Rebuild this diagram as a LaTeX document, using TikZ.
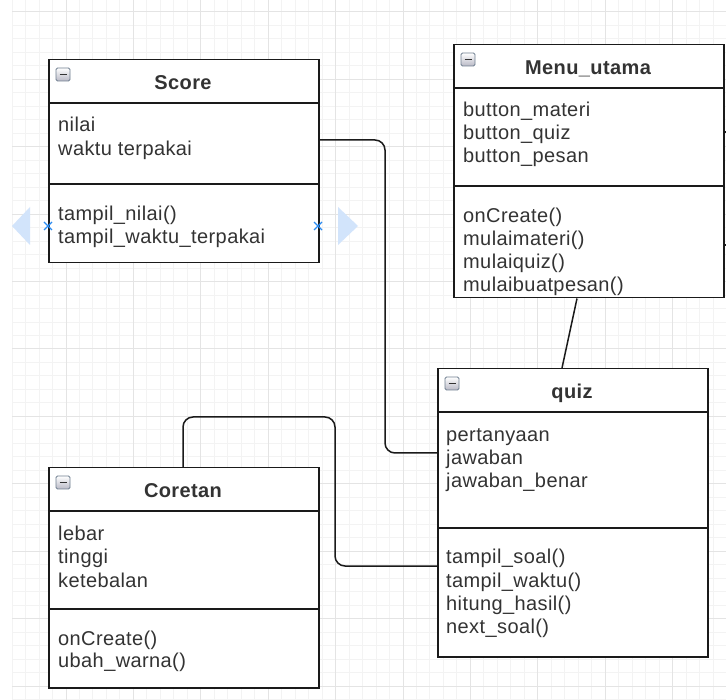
\documentclass[tikz,border=0pt]{standalone}
\usepackage{fontspec}
\setmainfont{Liberation Sans}[LetterSpace=2]
\definecolor{gridminor}{HTML}{F3F3F3}
\definecolor{gridmajor}{HTML}{E4E4E4}
\definecolor{txtgrey}{HTML}{333333}
\definecolor{linecol}{HTML}{1A1A1A}
\definecolor{arrowblue}{HTML}{D2E4FB}
\definecolor{xblue}{HTML}{2A8BF2}
\definecolor{iconedge}{HTML}{6F7F90}
\begin{document}
\begin{tikzpicture}[x=1pt,y=-1pt,
  cls/.style={draw=linecol, line width=1.5pt, fill=white, rectangle, anchor=north west, inner sep=0pt},
  sepline/.style={draw=linecol, line width=1.5pt},
  txt/.style={anchor=base west, inner sep=0pt, text=txtgrey, font=\fontsize{20pt}{24pt}\selectfont},
  hdr/.style={anchor=base, inner sep=0pt, text=txtgrey, font=\fontsize{20pt}{24pt}\selectfont\bfseries},
  conn/.style={draw=linecol, line width=1.5pt, rounded corners=10pt},
  iconbox/.style={draw=iconedge, line width=0.8pt, top color=white, bottom color=blue!10!gray!50, rounded corners=1.5pt},
  iconbar/.style={draw=black!80, line width=1.4pt},
  xmark/.style={draw=xblue, line width=1.4pt}
]
\useasboundingbox (0,0) rectangle (726,700);
\fill[white] (0,0) rectangle (726,700);
% grid
\foreach \i in {0,...,53} {
  \pgfmathsetmacro\xx{12.08+13.48*\i}
  \draw[gridminor, line width=1pt] (\xx,0) -- (\xx,700);
}
\foreach \i in {0,...,52} {
  \pgfmathsetmacro\yy{-1.48+13.48*\i}
  \draw[gridminor, line width=1pt] (12,\yy) -- (726,\yy);
}
\foreach \i in {0,...,9} {
  \pgfmathsetmacro\xx{66+67.4*\i}
  \draw[gridmajor, line width=1pt] (\xx,0) -- (\xx,700);
}
\foreach \i in {0,...,10} {
  \pgfmathsetmacro\yy{12+67.4*\i}
  \draw[gridmajor, line width=1pt] (12,\yy) -- (726,\yy);
}
% selection arrows around Score
\fill[arrowblue] (12,226) -- (30,207) -- (30,245) -- cycle;
\fill[arrowblue] (358,226) -- (338,207) -- (338,245) -- cycle;

% ---------- class boxes ----------
\node[cls, minimum width=270pt, minimum height=203pt] (score) at (48,59) {};
\node[cls, minimum width=270pt, minimum height=253pt] (menu) at (453,44) {};
\node[cls, minimum width=270pt, minimum height=288pt] (quiz) at (437,368) {};
\node[cls, minimum width=270pt, minimum height=220pt] (coretan) at (48,467) {};

% separators
\draw[sepline] (score.west |- 0,103) -- (score.east |- 0,103);
\draw[sepline] (score.west |- 0,184) -- (score.east |- 0,184);
\draw[sepline] (menu.west |- 0,88) -- (menu.east |- 0,88);
\draw[sepline] (menu.west |- 0,186) -- (menu.east |- 0,186);
\draw[sepline] (quiz.west |- 0,412) -- (quiz.east |- 0,412);
\draw[sepline] (quiz.west |- 0,528) -- (quiz.east |- 0,528);
\draw[sepline] (coretan.west |- 0,511) -- (coretan.east |- 0,511);
\draw[sepline] (coretan.west |- 0,609) -- (coretan.east |- 0,609);

% collapse icons
\foreach \ix/\iy in {56/68, 461/53, 445/377, 56/476} {
  \path[iconbox] (\ix,\iy) rectangle ++(14,13);
  \draw[iconbar] (\ix+3.5,\iy+6.5) -- ++(7,0);
}

% ---------- texts ----------
\node[hdr] (score-h) at (183,90) {Score};
\node[txt] (score-a1) at (58,132) {nilai};
\node[txt] (score-a2) at (58,156) {waktu terpakai};
\node[txt] (score-m1) at (58,221) {tampil\_nilai()};
\node[txt] (score-m2) at (58,244) {tampil\_waktu\_terpakai};

\node[hdr] (menu-h) at (588,75) {Menu\_utama};
\node[txt] (menu-a1) at (463,117) {button\_materi};
\node[txt] (menu-a2) at (463,140) {button\_quiz};
\node[txt] (menu-a3) at (463,163) {button\_pesan};
\node[txt] (menu-m1) at (463,223) {onCreate()};
\node[txt] (menu-m2) at (463,246) {mulaimateri()};
\node[txt] (menu-m3) at (463,269) {mulaiquiz()};
\node[txt] (menu-m4) at (463,292) {mulaibuatpesan()};

\node[hdr] (quiz-h) at (572,399) {quiz};
\node[txt] (quiz-a1) at (446,442) {pertanyaan};
\node[txt] (quiz-a2) at (446,465) {jawaban};
\node[txt] (quiz-a3) at (446,488) {jawaban\_benar};
\node[txt] (quiz-m1) at (446,563) {tampil\_soal()};
\node[txt] (quiz-m2) at (446,587) {tampil\_waktu()};
\node[txt] (quiz-m3) at (446,610) {hitung\_hasil()};
\node[txt] (quiz-m4) at (446,633) {next\_soal()};

\node[hdr] (cor-h) at (183,497) {Coretan};
\node[txt] (cor-a1) at (58,540) {lebar};
\node[txt] (cor-a2) at (58,563) {tinggi};
\node[txt] (cor-a3) at (58,587) {ketebalan};
\node[txt] (cor-m1) at (58,645) {onCreate()};
\node[txt] (cor-m2) at (58,667) {ubah\_warna()};

% ---------- connectors ----------
\draw[conn] (score.east |- 0,140) -| (385,453) -- (quiz.west |- 0,453);
\draw[conn] (coretan.north -| 183,0) |- (335,417) |- (quiz.west |- 0,566);
\draw[conn] (menu.south -| 577,0) -- (quiz.north -| 562,0);
\draw[sepline] (menu.east |- 0,132) -- ++(4,0);
\draw[sepline] (menu.east |- 0,245) -- ++(4,0);

% selection markers
\draw[xmark] (44,222) -- (52,230) (44,230) -- (52,222);
\draw[xmark] (314,222) -- (322,230) (314,230) -- (322,222);
\end{tikzpicture}
\end{document}
